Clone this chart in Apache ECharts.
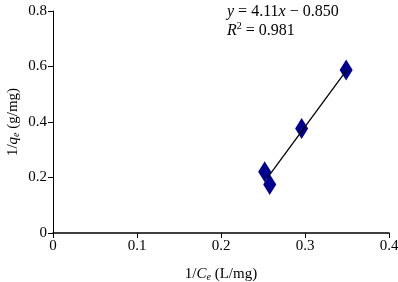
<!DOCTYPE html>
<html>
<head>
<meta charset="utf-8">
<script src="https://cdn.jsdelivr.net/npm/echarts@6/dist/echarts.min.js"></script>
<style>
    html, body { margin: 0; padding: 0; background: #fff; }
    #chart { width: 398px; height: 282px; }
</style>
</head>
<body>
<div id="chart"></div>
<script>
    // measured points (1/Ce, 1/qe)
    var pointsX = [0.252, 0.258, 0.296, 0.349];
    var pointsY = [0.221, 0.175, 0.377, 0.587];
    // fitted line end points
    var fitX = [0.255, 0.350];
    var fitY = [0.198, 0.589];

    var serif = '"Liberation Serif", "DejaVu Serif", serif';
    var chart = echarts.init(document.getElementById('chart'));

    var pts = pointsX.map(function (x, i) { return [x, pointsY[i]]; });
    var fit = fitX.map(function (x, i) { return [x, fitY[i]]; });

    var rich = {
        n: {fontFamily: serif, fontSize: 15, color: '#000'},
        i: {fontFamily: serif, fontSize: 15, fontStyle: 'italic', color: '#000'},
        s: {fontFamily: serif, fontSize: 10, fontStyle: 'italic', color: '#000', verticalAlign: 'bottom', padding: [6, 0, 0, 0]}
    };

    var option = {
        animation: false,
        grid: {left: 53, right: 9, top: 11, bottom: 49, containLabel: false, outerBoundsMode: 'none'},
        xAxis: {
            type: 'value', min: 0, max: 0.4, interval: 0.1,
            splitLine: {show: false},
            axisLine: {lineStyle: {color: '#000', width: 1.5}},
            axisTick: {lineStyle: {color: '#000'}, length: 5},
            axisLabel: {color: '#000', fontFamily: serif, fontSize: 15, margin: 6},
            name: '{n|1/}{i|C}{s|e}{n| (L/mg)}',
            nameLocation: 'middle', nameGap: 33, nameMoveOverlap: false,
            nameTextStyle: {rich: rich}
        },
        yAxis: {
            type: 'value', min: 0, max: 0.8, interval: 0.2,
            splitLine: {show: false},
            axisLine: {show: true, lineStyle: {color: '#000', width: 1}},
            axisTick: {show: true, lineStyle: {color: '#000'}, length: 5},
            axisLabel: {color: '#000', fontFamily: serif, fontSize: 15, margin: 6},
            name: '{n|1/}{i|q}{s|e}{n| (g/mg)}',
            nameLocation: 'middle', nameGap: 32, nameMoveOverlap: false,
            nameTextStyle: {rich: rich}
        },
        graphic: [{
            type: 'text', left: 227, top: 2,
            style: {
                text: '{i|y} = 4.11{i|x} \u2212 0.850\n{i|R}{p|2} = 0.981',
                fontFamily: serif, fontSize: 16, fill: '#000', lineHeight: 19,
                rich: {
                    i: {fontFamily: serif, fontSize: 16, fontStyle: 'italic'},
                    p: {fontFamily: serif, fontSize: 10, verticalAlign: 'top'}
                }
            }
        }],
        series: [{
            type: 'line', data: fit, symbol: 'none',
            lineStyle: {color: '#000', width: 1.3}, z: 3
        }, {
            type: 'scatter', data: pts, symbol: 'diamond', symbolSize: [13, 21],
            itemStyle: {color: '#000090', opacity: 1}, z: 2
        }]
    };
    chart.setOption(option);
</script>
</body>
</html>
